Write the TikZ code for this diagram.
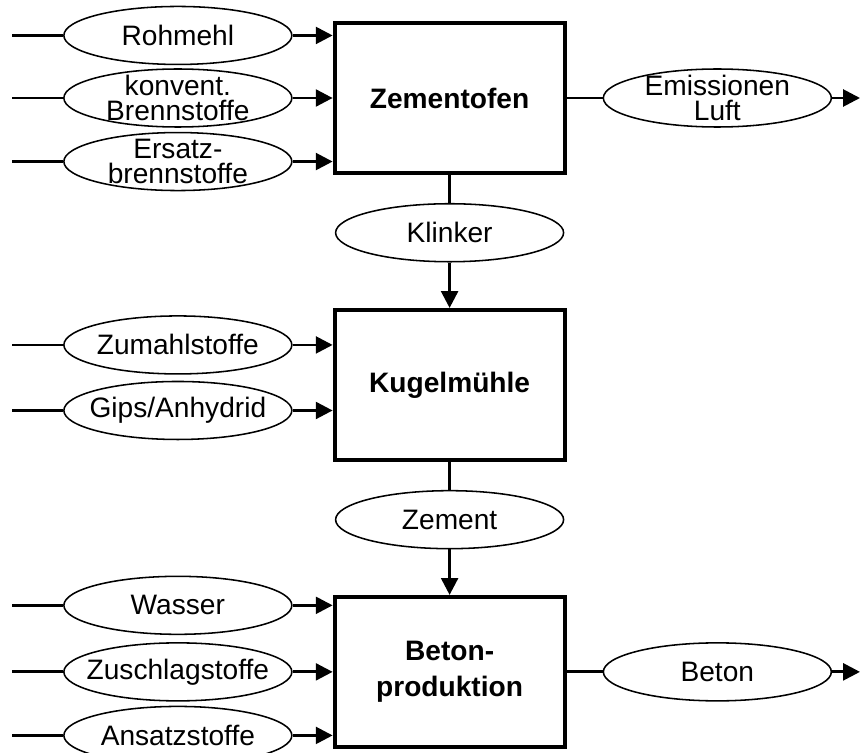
\documentclass[tikz,border=0pt]{standalone}
\usepackage{fontspec}
\setmainfont{Liberation Sans}
\usetikzlibrary{arrows.meta,positioning,shapes.geometric}
\usepackage{xcolor}
\definecolor{Ink}{HTML}{000000}

\begin{document}
\begin{tikzpicture}[
    p/.style={draw=Ink,line width=2.8pt,minimum width=57.5mm,minimum height=37.5mm,align=center,font=\fontsize{20}{26}\selectfont\bfseries},
    s/.style={ellipse,draw=Ink,line width=1.1pt,minimum width=57mm,minimum height=14.5mm,inner sep=0pt},
    a/.style={-{Triangle[length=4.2mm,width=4.2mm]},line width=2pt,draw=Ink},
    l/.style={line width=2pt,draw=Ink},
    every label/.style={align=center,font=\fontsize{20}{17.5}\selectfont,inner sep=0pt},
    node distance=3.325cm
  ]
    \useasboundingbox (0,0) rectangle (21.5,-18.825);
    \coordinate (links) at (0.3,0);
    \coordinate (rechts) at (21.5,0);
    \node[p] (ofen) at (11.24,-2.45) {Zementofen};
    \node[p,below=of ofen] (muehle) {Kugelmühle};
    \node[p,below=of muehle] (beton) {Beton-\\produktion};
    % Zementofen
    \node[s,left=1cm of ofen.west,label={center:konvent.\\Brennstoffe}] (brenn) {};
    \node[s,above=0.75mm of brenn,label=center:Rohmehl] (roh) {};
    \node[s,below=1mm of brenn,label={center:Ersatz-\\brennstoffe}] (ersatz) {};
    \node[s,right=0.9cm of ofen.east,label={center:Emissionen\\Luft}] (emis) {};
    \node[s,below=7mm of ofen,label=center:Klinker] (klinker) {};
    % Kugelmuehle
    \node[s,left=1cm of muehle.west,yshift=1cm,label=center:Zumahlstoffe] (zumahl) {};
    \node[s,below=1.5mm of zumahl,label=center:Gips/Anhydrid] (gips) {};
    \node[s,below=7mm of muehle,label=center:Zement] (zement) {};
    % Betonproduktion
    \node[s,left=1cm of beton.west,label=center:Zuschlagstoffe] (zuschlag) {};
    \node[s,above=1.75mm of zuschlag,label=center:Wasser] (wasser) {};
    \node[s,below=1mm of zuschlag,label=center:Ansatzstoffe] (ansatz) {};
    \node[s,right=0.9cm of beton.east,label=center:Beton] (produkt) {};
    \foreach \n/\z in {roh/ofen,brenn/ofen,ersatz/ofen,zumahl/muehle,gips/muehle,wasser/beton,zuschlag/beton,ansatz/beton}{
      \draw[l] (links |- \n) -- (\n);
      \draw[a] (\n) -- (\n -| \z.west);
    }
    \draw[l] (ofen) -- (klinker); \draw[a] (klinker) -- (muehle);
    \draw[l] (muehle) -- (zement); \draw[a] (zement) -- (beton);
    \draw[l] (ofen) -- (emis); \draw[a] (emis) -- (emis -| rechts);
    \draw[l] (beton) -- (produkt); \draw[a] (produkt) -- (produkt -| rechts);
  \end{tikzpicture}
\end{document}
